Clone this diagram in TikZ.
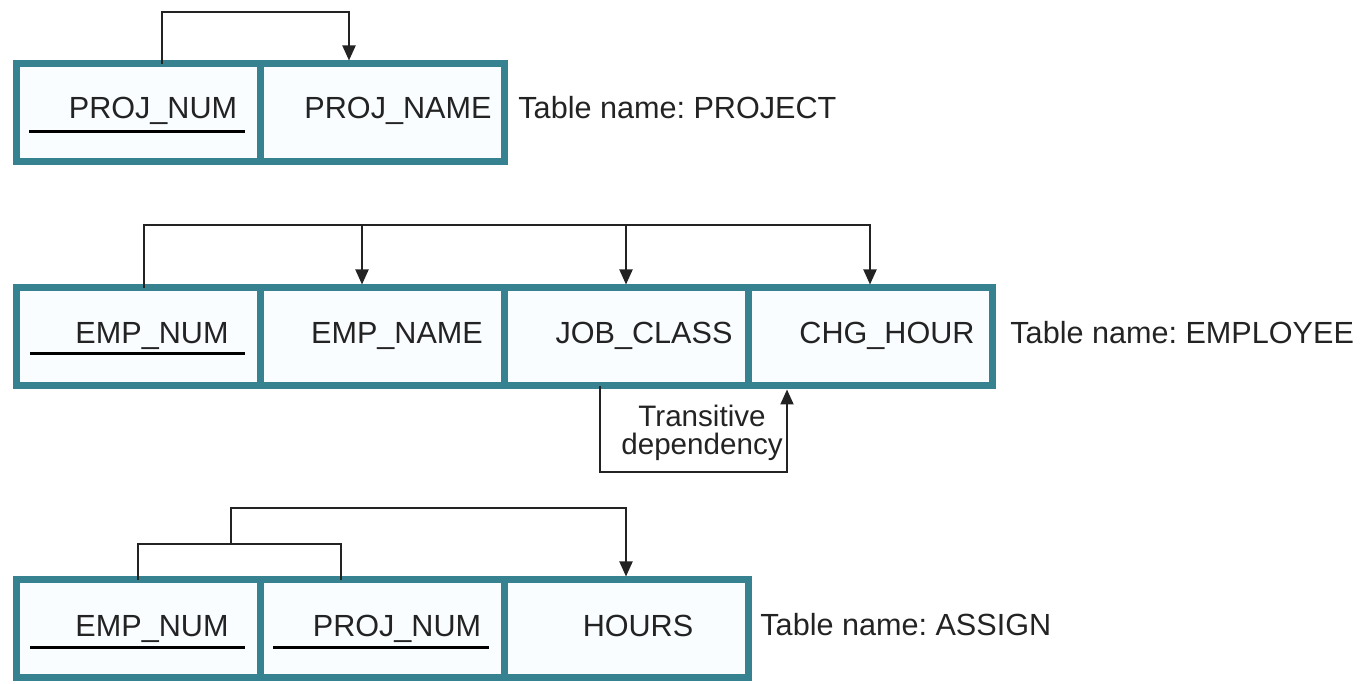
\documentclass[tikz,border=0pt]{standalone}
\usepackage{fontspec}
\setmainfont{Liberation Sans}
\usetikzlibrary{positioning,arrows.meta}

\definecolor{tblborder}{RGB}{55,130,145}
\definecolor{cellfill}{RGB}{249,253,255}
\definecolor{ink}{RGB}{35,35,35}

\tikzset{
  cell/.style={draw=tblborder, line width=3.5pt, fill=cellfill, minimum width=122pt, minimum height=49pt, inner sep=0pt, outer sep=0pt},
  fld/.style={font=\fontsize{15.3}{13}\selectfont\frenchspacing, text=ink, inner sep=0pt, anchor=base},
  dep/.style={draw=ink, line width=1pt, -{Triangle[length=7.5pt,width=6.5pt]}, shorten >=1.75pt},
  link/.style={draw=ink, line width=1pt},
  pkey/.style={draw=black, line width=1.5pt}
}

\begin{document}
\begin{tikzpicture}[x=0.5pt, y=0.5pt]
\useasboundingbox (0,0) rectangle (1370,684);

% PROJECT table
\node[cell] (p1) at (138,571) {};
\node[cell, right=0pt of p1] (p2) {};
\node[fld] (pnum) at (153,565) {PROJ\_NUM};
\node[fld] (pname) at (398,565) {PROJ\_NAME};
\node[fld, anchor=base west] (ptab) at (518,565) {Table name: PROJECT};
\draw[pkey] (29,552) -- (245,552);

\draw[dep] ([xshift=12pt]p1.north) -- ++(0,52) -| ([xshift=-16.5pt]p2.north);

% EMPLOYEE table
\node[cell] (e1) at (138,347) {};
\node[cell, right=0pt of e1] (e2) {};
\node[cell, right=0pt of e2] (e3) {};
\node[cell, right=0pt of e3] (e4) {};
\node[fld] (enum) at (152,340) {EMP\_NUM};
\node[fld] (ename) at (397,340) {EMP\_NAME};
\node[fld] (jclass) at (644,340) {JOB\_CLASS};
\node[fld] (chour) at (887,340) {CHG\_HOUR};
\node[fld, anchor=base west] (etab) at (1010,340) {Table name: EMPLOYEE};
\draw[pkey] (30,330) -- (245,330);

\draw[dep] ([xshift=3pt]e1.north) -- ++(0,63) -| (e4.north);
\draw[dep] ([xshift=-10pt,yshift=31.5pt]e2.north) -- ([xshift=-10pt]e2.north);
\draw[dep] ([yshift=31.5pt]e3.north) -- (e3.north);

% transitive dependency
\draw[dep] ([xshift=-13pt]e3.south) -- ++(0,-86) -| ([xshift=-41.5pt]e4.south);
\node[fld, font=\fontsize{14.8}{14}\selectfont, anchor=center, align=center] (trans) at (702,251) {Transitive\\dependency};

% ASSIGN table
\node[cell] (a1) at (138,55) {};
\node[cell, right=0pt of a1] (a2) {};
\node[cell, right=0pt of a2] (a3) {};
\node[fld] (aenum) at (152,47) {EMP\_NUM};
\node[fld] (apnum) at (397,47) {PROJ\_NUM};
\node[fld] (hours) at (638,47) {HOURS};
\node[fld, anchor=base west] (atab) at (760,48) {Table name: ASSIGN};
\draw[pkey] (30,36) -- (245,36);
\draw[pkey] (273,36) -- (489,36);

\draw[link] (a1.north) -- ++(0,36) -| ([xshift=-20.5pt]a2.north);
\draw[dep] ([xshift=46.5pt,yshift=18pt]a1.north) -- ++(0,36) -| (a3.north);
\end{tikzpicture}
\end{document}
